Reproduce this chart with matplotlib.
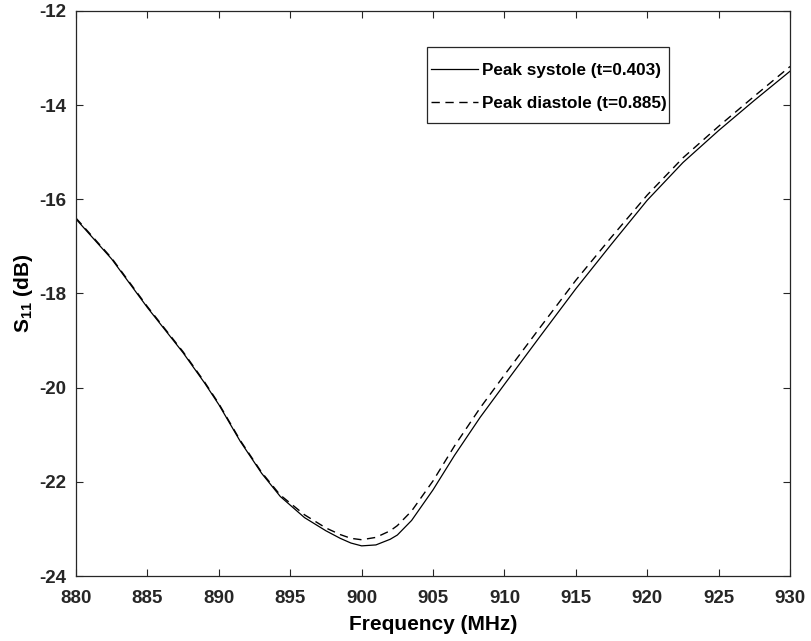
import matplotlib
matplotlib.use("Agg")
import matplotlib.pyplot as plt
from matplotlib.patches import Rectangle

plt.rcParams["font.family"] = ["Liberation Sans", "DejaVu Sans"]
plt.rcParams["font.weight"] = "bold"
plt.rcParams["axes.unicode_minus"] = False
plt.rcParams["mathtext.fontset"] = "custom"
plt.rcParams["mathtext.rm"] = "Liberation Sans"
plt.rcParams["mathtext.bf"] = "Liberation Sans:bold"

# Frequency points (MHz) and S11 (dB)
freq = [880, 882.5, 885, 887.5, 889, 890, 891.5, 893, 894.3, 896, 897.5, 898.5,
        899.25, 900, 901, 902, 902.5, 903.5, 905, 906.5, 908.3, 910, 912.5,
        915, 917.5, 920, 922.5, 925, 927.5, 930]
s11_systole = [-16.42, -17.27, -18.30, -19.26, -19.90, -20.36, -21.14, -21.82,
               -22.31, -22.76, -23.04, -23.20, -23.30, -23.36, -23.34, -23.22,
               -23.13, -22.82, -22.17, -21.44, -20.63, -19.93, -18.91, -17.90,
               -16.95, -16.02, -15.22, -14.54, -13.90, -13.28]
s11_diastole = [-16.40, -17.25, -18.28, -19.24, -19.88, -20.34, -21.12, -21.80,
                -22.28, -22.70, -22.98, -23.12, -23.20, -23.23, -23.18, -23.04,
                -22.93, -22.62, -21.98, -21.24, -20.43, -19.73, -18.72, -17.72,
                -16.80, -15.91, -15.12, -14.45, -13.81, -13.18]

fig = plt.figure(figsize=(8.12, 6.41), dpi=100)
ax = fig.add_axes([0.0936, 0.1014, 0.8794, 0.8816])

ax.plot(freq, s11_systole, color="black", lw=0.9, label="Peak systole (t=0.403)")
ax.plot(freq, s11_diastole, color="black", lw=1.0, dashes=(6, 4),
        label="Peak diastole (t=0.885)")

ax.set_xlim(880, 930)
ax.set_ylim(-24, -12)
ax.set_xticks(range(880, 931, 5))
ax.set_yticks(range(-24, -11, 2))
ax.tick_params(direction="in", top=True, right=True, labelsize=13.5,
               length=5, width=0.8, colors="#262626")
ax.tick_params(axis="x", pad=10)
ax.tick_params(axis="y", pad=7)
for s in ax.spines.values():
    s.set_color("#262626")
    s.set_linewidth(0.9)

ax.set_xlabel("Frequency (MHz)", fontsize=15, fontweight="bold", labelpad=6)
ax.set_ylabel(r"$\mathbf{S_{11}}$ (dB)", fontsize=15, fontweight="bold", labelpad=3)

# legend frame drawn separately (MATLAB-style box, wider vertical padding)
ax.add_patch(Rectangle((0.4916, 0.8018), 0.339, 0.134, transform=ax.transAxes,
                       fill=True, facecolor="white", edgecolor="#262626",
                       lw=0.9, zorder=4))
leg = ax.legend(loc="center left", bbox_to_anchor=(0.497, 0.865), fontsize=12.3,
                handlelength=2.75, handletextpad=0.25, borderpad=0,
                labelspacing=1.05, frameon=False, borderaxespad=0)
leg.set_zorder(5)
for t in leg.get_texts():
    t.set_fontweight("bold")

fig.savefig("out.png", dpi=100)
